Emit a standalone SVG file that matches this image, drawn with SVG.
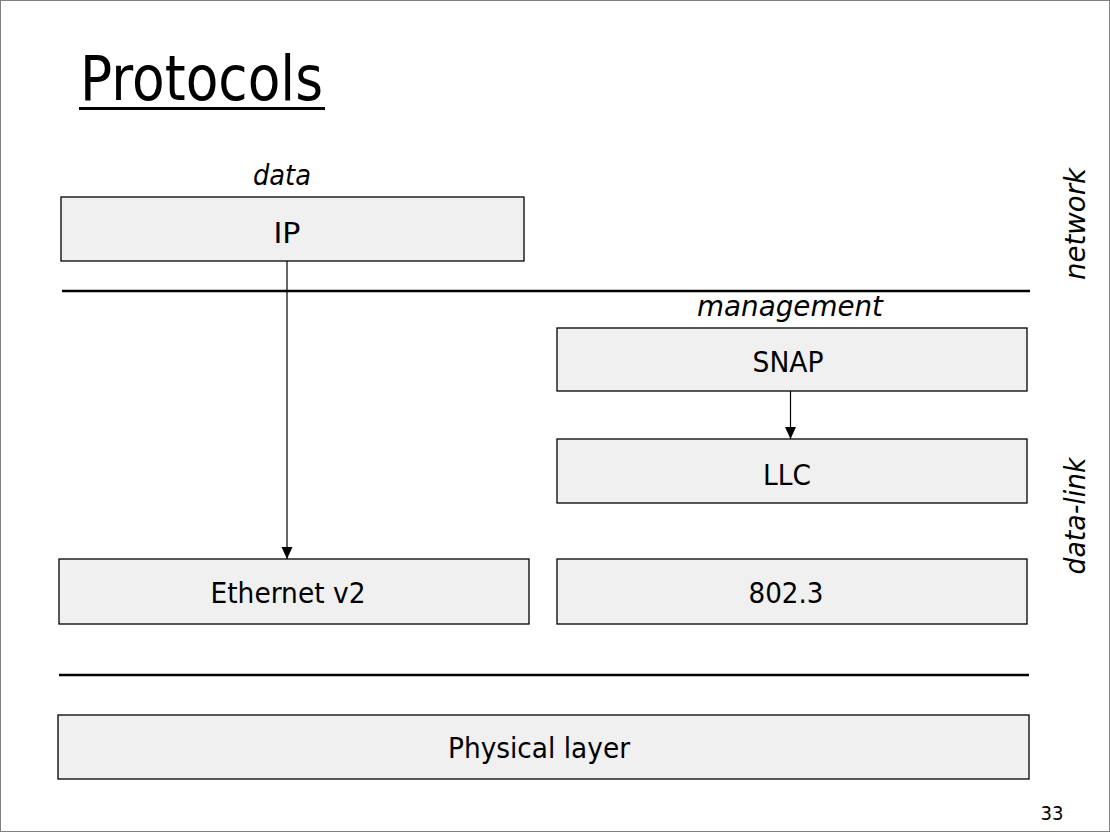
<svg xmlns="http://www.w3.org/2000/svg" width="1110" height="832" viewBox="0 0 1110 832">
<style>
.box{fill:#f0f0f0;stroke:#000;stroke-width:1.3}
.t{font-family:"DejaVu Sans","Verdana",sans-serif;font-size:29px;fill:#000;text-anchor:middle}
.i{font-family:"DejaVu Sans","Verdana",sans-serif;font-size:29px;font-style:italic;fill:#000;text-anchor:middle}
.layer{stroke:#000;stroke-width:2.5}
.conn{stroke:#000;stroke-width:1.2;fill:none}
</style>
<defs>
<marker id="ah" markerUnits="userSpaceOnUse" markerWidth="13" markerHeight="13" viewBox="0 0 13 13" refX="12" refY="6.5" orient="auto">
<path d="M0,1 L12,6.5 L0,12 Z" fill="#000"/>
</marker>
</defs>
<rect x="0.5" y="0.5" width="1109" height="831" fill="#fff" stroke="#808080" stroke-width="1"/>
<g id="title">
<text x="80" y="100" font-family="DejaVu Sans, Verdana, sans-serif" font-size="62" textLength="243" lengthAdjust="spacingAndGlyphs">Protocols</text>
<rect x="79" y="107" width="246" height="3" fill="#000"/>
</g>
<g id="layers">
<line class="layer" x1="62" y1="291" x2="1030" y2="291"/>
<line class="layer" x1="59" y1="675" x2="1029" y2="675"/>
</g>
<g id="labels">
<text class="i" x="282" y="185" textLength="58" lengthAdjust="spacingAndGlyphs">data</text>
<text class="i" x="790" y="316" textLength="186" lengthAdjust="spacingAndGlyphs">management</text>
<text class="i" transform="translate(1085,224) rotate(-90)" x="0" y="0" textLength="112" lengthAdjust="spacingAndGlyphs">network</text>
<text class="i" transform="translate(1085,516) rotate(-90)" x="0" y="0" textLength="117" lengthAdjust="spacingAndGlyphs">data-link</text>
<text x="1052" y="820" font-family="DejaVu Sans, Verdana, sans-serif" font-size="20" text-anchor="middle" textLength="23" lengthAdjust="spacingAndGlyphs">33</text>
</g>
<g id="ip">
<rect class="box" x="61" y="197" width="463" height="64"/>
<text class="t" x="287" y="243" textLength="27" lengthAdjust="spacingAndGlyphs">IP</text>
</g>
<g id="snap">
<rect class="box" x="557" y="328" width="470" height="63"/>
<text class="t" x="788" y="372" textLength="71" lengthAdjust="spacingAndGlyphs">SNAP</text>
</g>
<g id="llc">
<rect class="box" x="557" y="439" width="470" height="64"/>
<text class="t" x="787" y="485" textLength="48" lengthAdjust="spacingAndGlyphs">LLC</text>
</g>
<g id="ethernet">
<rect class="box" x="59" y="559" width="470" height="65"/>
<text class="t" x="288" y="603" textLength="155" lengthAdjust="spacingAndGlyphs">Ethernet v2</text>
</g>
<g id="ieee8023">
<rect class="box" x="557" y="559" width="470" height="65"/>
<text class="t" x="786" y="603" textLength="75" lengthAdjust="spacingAndGlyphs">802.3</text>
</g>
<g id="physical">
<rect class="box" x="58" y="715" width="971" height="64"/>
<text class="t" x="539" y="758" textLength="182" lengthAdjust="spacingAndGlyphs">Physical layer</text>
</g>
<g id="connectors">
<line class="conn" x1="287" y1="261" x2="287" y2="559" marker-end="url(#ah)"/>
<line class="conn" x1="790.5" y1="391" x2="790.5" y2="439" marker-end="url(#ah)"/>
</g>
</svg>
